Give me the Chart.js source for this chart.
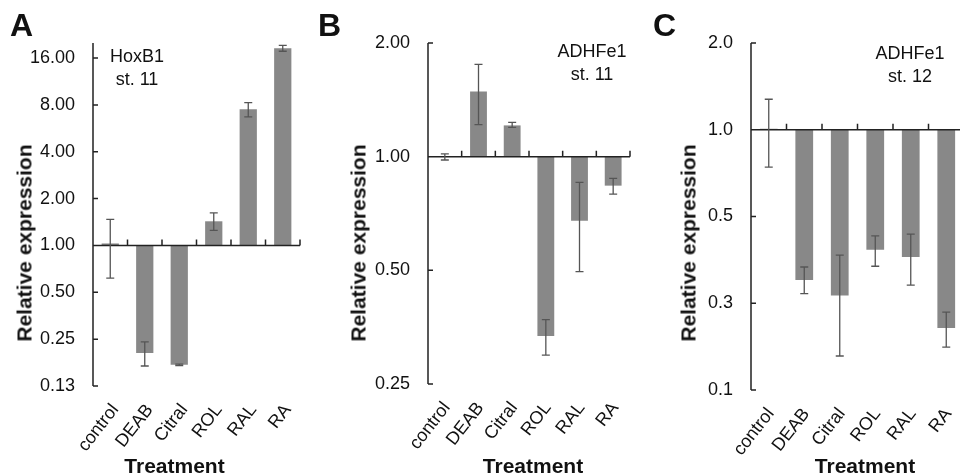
<!DOCTYPE html>
<html>
<head>
<meta charset="utf-8">
<script src="https://cdn.jsdelivr.net/npm/chart.js@4.4.1/dist/chart.umd.min.js"></script>
<style>
  html, body { margin: 0; padding: 0; background: #fff; width: 960px; height: 475px; overflow: hidden; }
  body { position: relative; font-family: 'Liberation Sans', Arial, Helvetica, sans-serif; color: #111; }
  canvas { position: absolute; top: 0; }
  .lbl { position: absolute; white-space: nowrap; }
  .letter { font-weight: bold; font-size: 32px; line-height: 1; }
  .note { font-size: 18px; line-height: 23px; text-align: center; transform: translateX(-50%); }
  .xt { font-weight: bold; font-size: 21px; line-height: 1; transform: translate(-50%, -50%); }
  .yt { font-weight: bold; font-size: 21px; line-height: 1; transform: translate(-50%, -50%) rotate(-90deg); }
</style>
</head>
<body>
<canvas id="chartA" width="320" height="475" style="left:0"></canvas>
<canvas id="chartB" width="320" height="475" style="left:320px"></canvas>
<canvas id="chartC" width="330" height="475" style="left:640px"></canvas>

<div class="lbl letter" style="left:10px;top:9px">A</div>
<div class="lbl letter" style="left:318px;top:9px">B</div>
<div class="lbl letter" style="left:653px;top:9px">C</div>

<div class="lbl note" style="left:137px;top:45px">HoxB1<br>st. 11</div>
<div class="lbl note" style="left:592px;top:40px">ADHFe1<br>st. 11</div>
<div class="lbl note" style="left:910px;top:42px">ADHFe1<br>st. 12</div>

<div class="lbl yt" style="left:23.5px;top:243px">Relative expression</div>
<div class="lbl yt" style="left:357.5px;top:243px">Relative expression</div>
<div class="lbl yt" style="left:687.5px;top:243px">Relative expression</div>

<div class="lbl xt" style="left:174.5px;top:465px">Treatment</div>
<div class="lbl xt" style="left:533px;top:465px">Treatment</div>
<div class="lbl xt" style="left:865px;top:465px">Treatment</div>

<script>
const categories = ['control', 'DEAB', 'Citral', 'ROL', 'RAL', 'RA'];

// A: HoxB1 st. 11
const valuesA = [1.03, 0.204, 0.171, 1.43, 7.5, 18.5];
const errLowA = [0.617, 0.168, 0.169, 1.25, 6.7, 17.7];
const errHighA = [1.47, 0.24, 0.173, 1.62, 8.28, 19.3];
const ticksA = [0.125, 0.25, 0.5, 1, 2, 4, 8, 16];

// B: ADHFe1 st. 11
const valuesB = [1.0, 1.487, 1.21, 0.335, 0.677, 0.838];
const errLowB = [0.98, 1.216, 1.196, 0.298, 0.496, 0.796];
const errHighB = [1.017, 1.755, 1.233, 0.37, 0.855, 0.876];
const ticksB = [0.25, 0.5, 1, 2];

// C: ADHFe1 st. 12
const valuesC = [1.008, 0.301, 0.266, 0.383, 0.362, 0.205];
const errLowC = [0.742, 0.27, 0.164, 0.336, 0.289, 0.176];
const errHighC = [1.276, 0.334, 0.367, 0.428, 0.434, 0.233];
const ticksC = [0.125, 0.25, 0.5, 1, 2];

Chart.defaults.font.family = "'Liberation Sans', Arial, Helvetica, sans-serif";
Chart.defaults.color = '#111';

// axis line through 1.0, inward y ticks, category separators and error bars
const axesAndErrors = {
  id: 'axesAndErrors',
  afterDatasetsDraw(chart, _args, opts) {
    const { ctx, chartArea: a, scales: { x, y } } = chart;
    const base = y.getPixelForValue(1);
    const n = chart.data.labels.length;
    ctx.save();
    ctx.strokeStyle = '#222';
    ctx.lineWidth = 1.5;
    ctx.beginPath();
    ctx.moveTo(a.left, a.top);
    ctx.lineTo(a.left, a.bottom);
    y.ticks.forEach(t => {
      const py = y.getPixelForValue(t.value);
      ctx.moveTo(a.left, py);
      ctx.lineTo(a.left + 5, py);
    });
    ctx.moveTo(a.left, base);
    ctx.lineTo(a.right, base);
    for (let i = 0; i < n; i++) {
      const px = i < n - 1 ? (x.getPixelForValue(i) + x.getPixelForValue(i + 1)) / 2 : a.right;
      ctx.moveTo(px, base);
      ctx.lineTo(px, base - 6);
    }
    ctx.stroke();

    ctx.strokeStyle = '#555';
    ctx.lineWidth = 1.3;
    ctx.beginPath();
    opts.low.forEach((lo, i) => {
      const px = x.getPixelForValue(i);
      const y1 = y.getPixelForValue(lo);
      const y2 = y.getPixelForValue(opts.high[i]);
      ctx.moveTo(px, y1); ctx.lineTo(px, y2);
      ctx.moveTo(px - 4, y1); ctx.lineTo(px + 4, y1);
      ctx.moveTo(px - 4, y2); ctx.lineTo(px + 4, y2);
    });
    ctx.stroke();
    ctx.restore();
  }
};

function panel(id, { values, low, high, tickValues, min, max, digits, yWidth, xHeight, top, right, shift }) {
  const canvas = document.getElementById(id);
  return new Chart(canvas.getContext('2d'), {
    type: 'bar',
    data: {
      labels: categories,
      datasets: [{
        data: values.map(v => [1, v]),
        backgroundColor: '#888888',
        borderWidth: 0,
        barPercentage: 0.5,
        categoryPercentage: 1
      }]
    },
    options: {
      responsive: false,
      animation: false,
      devicePixelRatio: 1,
      layout: { padding: { top, right, left: 0, bottom: 0 } },
      plugins: {
        legend: { display: false },
        tooltip: { enabled: false },
        axesAndErrors: { low, high }
      },
      scales: {
        x: {
          grid: { display: false, drawTicks: false },
          border: { display: false },
          ticks: { color: '#111', font: { size: 18 }, minRotation: 52, maxRotation: 52, padding: 14, labelOffset: shift, autoSkip: false },
          afterFit: s => { s.height = xHeight; s.paddingLeft = 0; s.paddingRight = 0; }
        },
        y: {
          type: 'logarithmic',
          min, max,
          grid: { display: false, drawTicks: false },
          border: { display: false },
          ticks: { color: '#111', font: { size: 18 }, padding: 18, autoSkip: false, callback: v => Number(v).toFixed(digits) },
          afterBuildTicks: s => { s.ticks = tickValues.map(v => ({ value: v })); },
          afterFit: s => { s.width = yWidth; }
        }
      }
    },
    plugins: [axesAndErrors]
  });
}

panel('chartA', { values: valuesA, low: errLowA, high: errHighA, tickValues: ticksA, min: 0.125, max: 20, digits: 2, yWidth: 93, xHeight: 89, top: 43, right: 20, shift: 5 });
panel('chartB', { values: valuesB, low: errLowB, high: errHighB, tickValues: ticksB, min: 0.25, max: 2, digits: 2, yWidth: 108, xHeight: 91, top: 43, right: 10, shift: 2 });
panel('chartC', { values: valuesC, low: errLowC, high: errHighC, tickValues: ticksC, min: 0.125, max: 2, digits: 1, yWidth: 111, xHeight: 85, top: 43, right: 6, shift: 2 });
</script>
</body>
</html>
